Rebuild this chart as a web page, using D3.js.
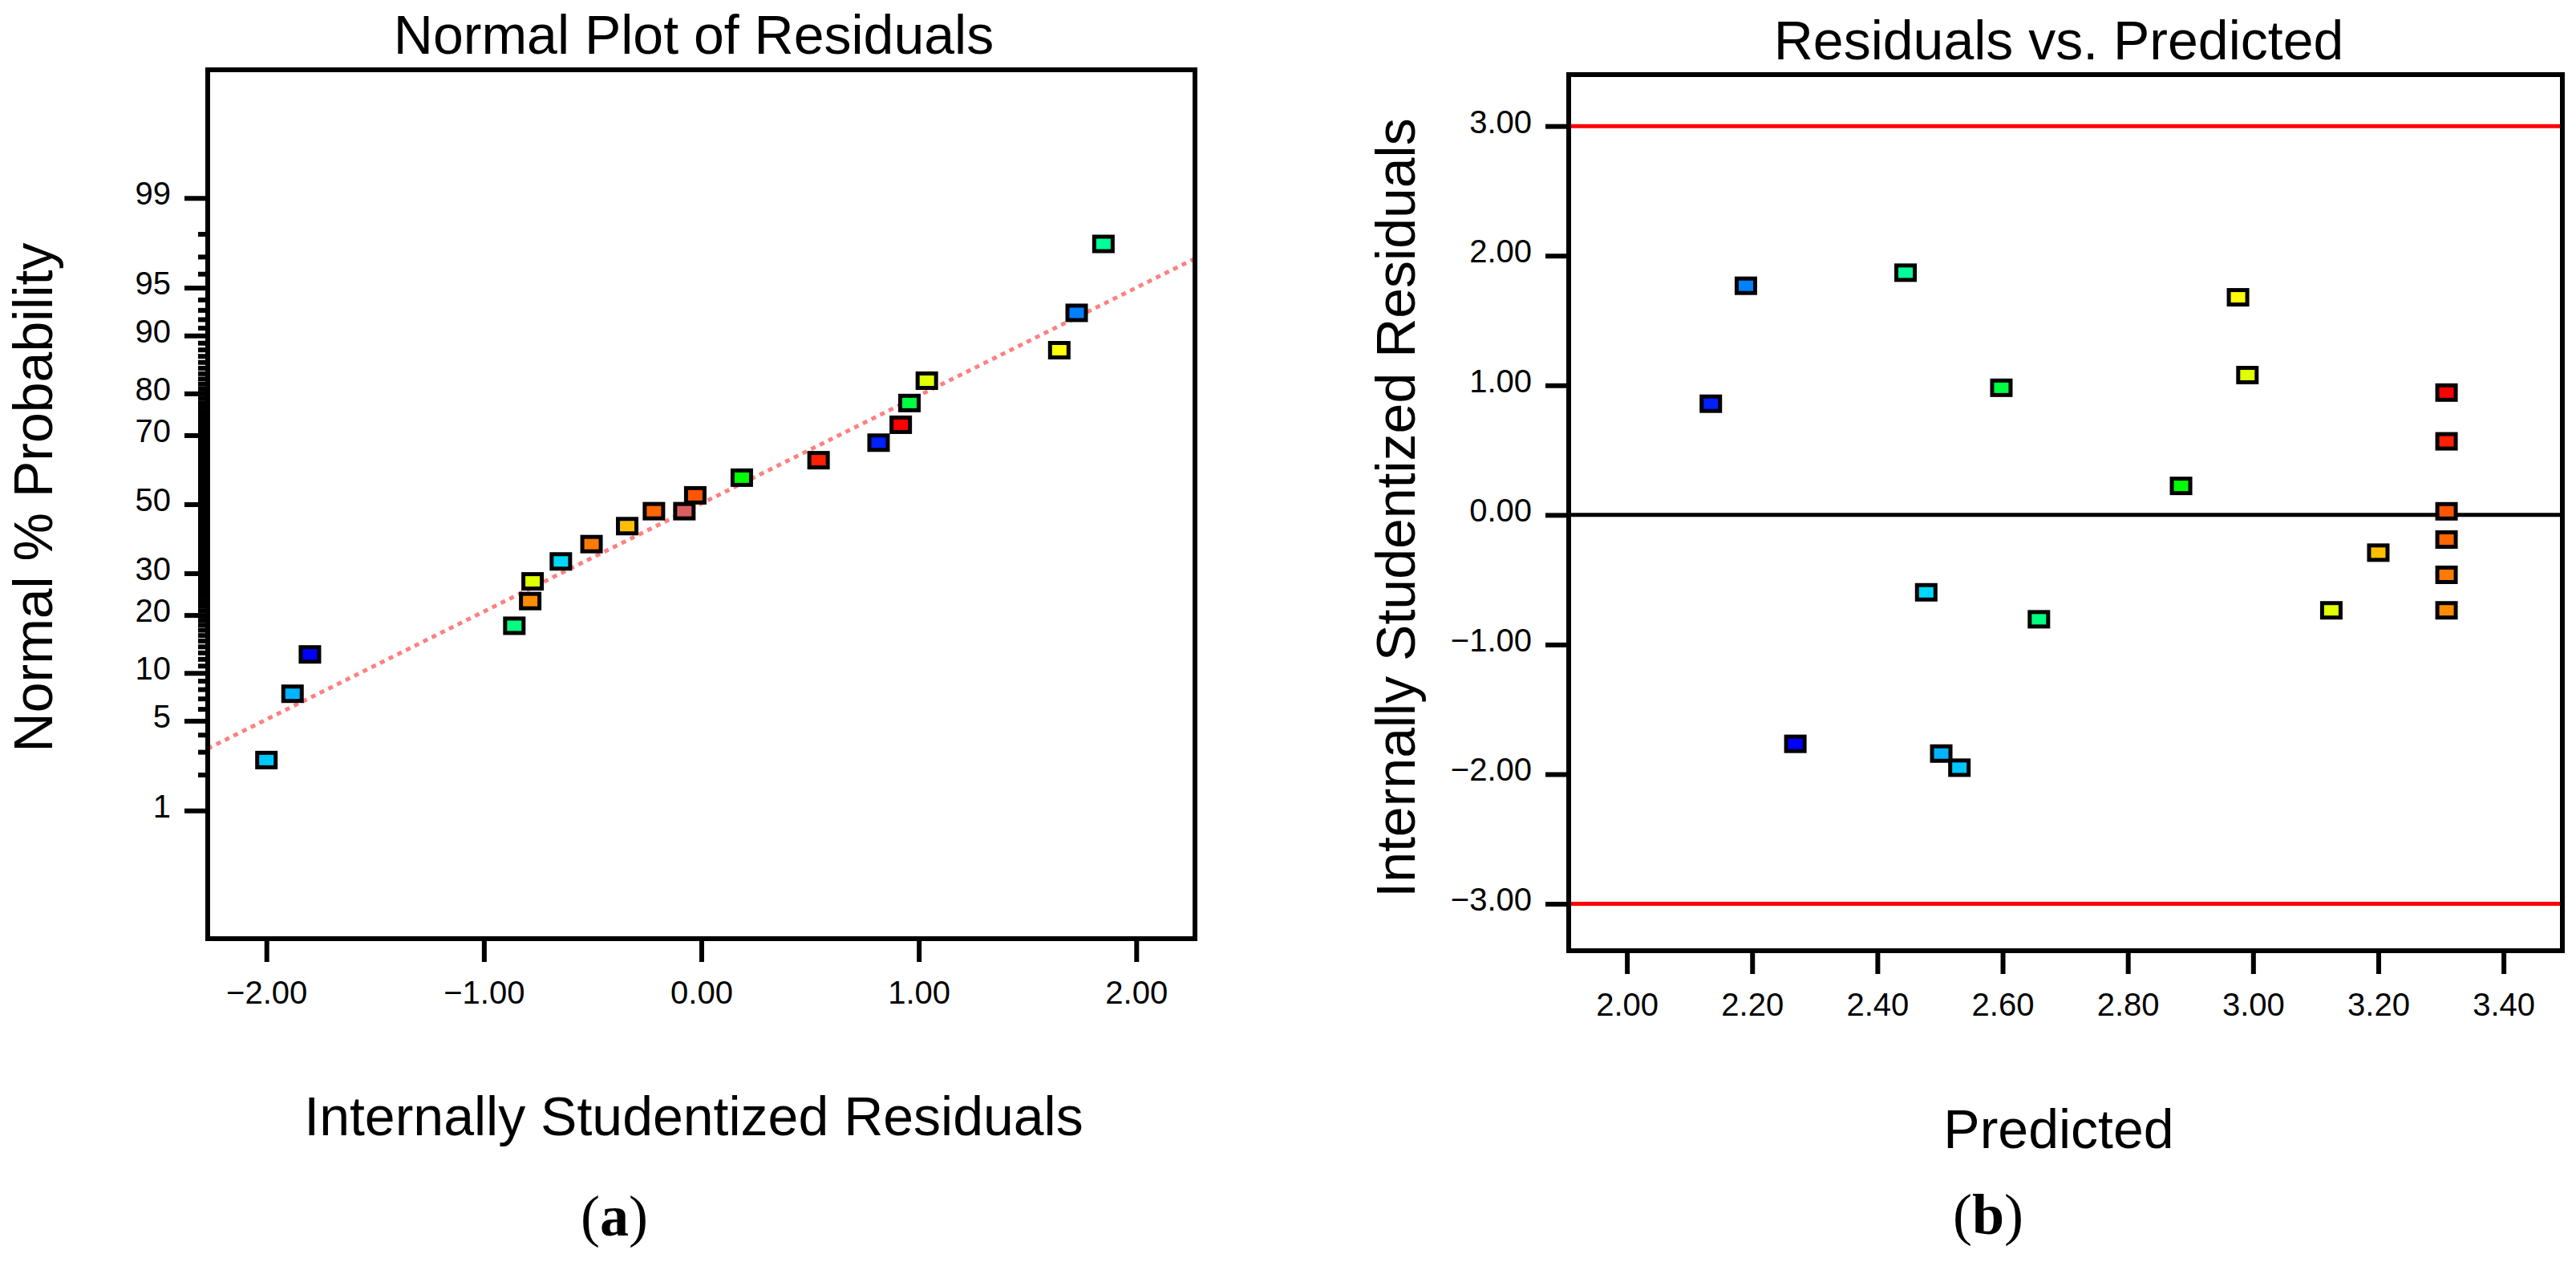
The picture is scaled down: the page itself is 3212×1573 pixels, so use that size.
<!DOCTYPE html>
<html>
<head>
<meta charset="utf-8">
<script src="https://cdn.jsdelivr.net/npm/d3@7"></script>
<style>
  body { margin: 0; background: #fff; }
  svg text { font-family: "Liberation Sans", Arial, sans-serif; fill: #000; }
  svg text.cap { font-family: "Liberation Serif", "Times New Roman", serif; }
</style>
</head>
<body>
<svg id="chart" width="3212" height="1573"></svg>
<script>
"use strict";

// ---- (a) normal plot of residuals ----
var normResid = [-2.00, -1.88, -1.80, -0.86, -0.787, -0.776, -0.646, -0.505, -0.341, -0.218, -0.078,
                 -0.028, 0.186, 0.539, 0.815, 0.917, 0.957, 1.037, 1.646, 1.726, 1.849];
var normPct = [2.6, 7.5, 12.7, 17.8, 23.1, 27.9, 33.2, 38.1, 43.4, 47.9, 47.9,
               52.7, 58.0, 63.1, 68.0, 72.7, 77.9, 82.6, 87.9, 92.7, 97.6];
var normColor = ["#00c8ff", "#00b4ff", "#0000ff", "#00ff80", "#ff8c00", "#e0ff00", "#00d8ff", "#ff7a00",
                 "#ffc000", "#ff6600", "#d96060", "#ff5500", "#00ff00", "#ff2000", "#0020ff", "#ff0000",
                 "#00ff40", "#e0ff00", "#ffff00", "#0080ff", "#00ff99"];
var probTicks = [1, 5, 10, 20, 30, 50, 70, 80, 90, 95, 99];
var residTicksA = [-2, -1, 0, 1, 2];
var fitX = [-2.27, 2.27];
var fitPct = [3.17, 96.9];

// ---- (b) residuals vs. predicted ----
var predicted = [2.134, 2.190, 2.269, 2.445, 2.478, 2.502, 2.531, 2.598, 2.658, 2.885,
                 2.976, 2.991, 3.125, 3.200, 3.309, 3.309, 3.309, 3.309, 3.309, 3.309];
var studResid = [0.858, 1.768, -1.766, 1.869, -0.597, -1.841, -1.95, 0.981, -0.805, 0.224,
                 1.679, 1.079, -0.736, -0.291, 0.944, 0.568, 0.028, -0.19, -0.462, -0.736];
var predColor = ["#0020ff", "#0080ff", "#0000ff", "#00ff99", "#00d8ff", "#00b4ff", "#00c8ff", "#00ff40",
                 "#00ff80", "#00ff00", "#ffff00", "#e0ff00", "#e0ff00", "#ffc000", "#ff0000", "#ff2000",
                 "#ff5500", "#ff6600", "#ff7a00", "#ff8c00"];
var predTicks = [2.0, 2.2, 2.4, 2.6, 2.8, 3.0, 3.2, 3.4];
var residTicksB = [-3, -2, -1, 0, 1, 2, 3];
var limits = [3, -3];

// inverse normal CDF (Acklam), used for the probability axis
function probit(p) {
    var a = [-3.969683028665376e+01, 2.209460984245205e+02, -2.759285104469687e+02,
             1.383577518672690e+02, -3.066479806614716e+01, 2.506628277459239e+00];
    var b = [-5.447609879822406e+01, 1.615858368580409e+02, -1.556989798598866e+02,
             6.680131188771972e+01, -1.328068155288572e+01];
    var c = [-7.784894002430293e-03, -3.223964580411365e-01, -2.400758277161838e+00,
             -2.549732539343734e+00, 4.374664141464968e+00, 2.938163982698783e+00];
    var d = [7.784695709041462e-03, 3.224671290700398e-01, 2.445134137142996e+00,
             3.754408661907416e+00];
    var pl = 0.02425, q, r;
    if (p < pl) {
        q = Math.sqrt(-2 * Math.log(p));
        return (((((c[0] * q + c[1]) * q + c[2]) * q + c[3]) * q + c[4]) * q + c[5]) /
               ((((d[0] * q + d[1]) * q + d[2]) * q + d[3]) * q + 1);
    }
    if (p > 1 - pl) {
        q = Math.sqrt(-2 * Math.log(1 - p));
        return -(((((c[0] * q + c[1]) * q + c[2]) * q + c[3]) * q + c[4]) * q + c[5]) /
                ((((d[0] * q + d[1]) * q + d[2]) * q + d[3]) * q + 1);
    }
    q = p - 0.5;
    r = q * q;
    return (((((a[0] * r + a[1]) * r + a[2]) * r + a[3]) * r + a[4]) * r + a[5]) * q /
           (((((b[0] * r + b[1]) * r + b[2]) * r + b[3]) * r + b[4]) * r + 1);
}
function zOf(pct) { return probit(pct / 100); }

var svg = d3.select("#chart");
var fontTick = 40, fontTitle = 68, lineW = 6;

function styleAxis(g) {
    g.select(".domain").remove();
    g.attr("font-size", fontTick)
        .attr("font-family", null);
    g.selectAll(".tick line")
        .attr("stroke", "#000")
        .attr("stroke-width", lineW);
}

function drawFrame(g, x, y) {
    g.append("rect")
        .attr("x", x.range()[0])
        .attr("y", y.range()[1])
        .attr("width", x.range()[1] - x.range()[0])
        .attr("height", y.range()[0] - y.range()[1])
        .attr("fill", "none")
        .attr("stroke", "#000")
        .attr("stroke-width", lineW);
}

function drawMarkers(g, xs, ys, cols, x, y) {
    g.selectAll("rect.pt")
        .data(xs)
        .enter().append("rect")
        .attr("class", "pt")
        .attr("x", function (d) { return x(d) - 11.5; })
        .attr("y", function (d, i) { return y(ys[i]) - 9; })
        .attr("width", 23)
        .attr("height", 18)
        .attr("fill", function (d, i) { return cols[i]; })
        .attr("stroke", "#000")
        .attr("stroke-width", 5);
}

// ================= panel (a) =================
var xA = d3.scaleLinear().domain([-2.27, 2.27]).range([259, 1490]);
var yA = d3.scaleLinear().domain([-3.3, 3.3]).range([1170, 87]);

var gA = svg.append("g");

// minor ticks on probability axis: every whole percent
var minorP = d3.range(2, 99).filter(function (p) { return probTicks.indexOf(p) < 0; });
gA.append("g")
    .attr("transform", "translate(" + xA.range()[0] + ",0)")
    .call(d3.axisLeft(yA).tickValues(minorP.map(zOf)).tickSize(12).tickFormat(""))
    .call(styleAxis);

gA.append("g")
    .attr("transform", "translate(" + xA.range()[0] + ",0)")
    .call(d3.axisLeft(yA).tickValues(probTicks.map(zOf)).tickSize(29).tickPadding(17)
        .tickFormat(function (d, i) { return probTicks[i]; }))
    .call(styleAxis)
    .selectAll("text").attr("dy", "0.2em");

gA.append("g")
    .attr("transform", "translate(0," + yA.range()[0] + ")")
    .call(d3.axisBottom(xA).tickValues(residTicksA).tickSize(29).tickPadding(24).tickFormat(d3.format(".2f")))
    .call(styleAxis);

// fitted reference line
gA.append("line")
    .attr("x1", xA(fitX[0])).attr("y1", yA(zOf(fitPct[0])))
    .attr("x2", xA(fitX[1])).attr("y2", yA(zOf(fitPct[1])))
    .attr("stroke", "#ff8080")
    .attr("stroke-width", 5)
    .attr("stroke-dasharray", "6,6");

drawMarkers(gA, normResid, normPct.map(zOf), normColor, xA, yA);
drawFrame(gA, xA, yA);

gA.append("text")
    .attr("x", 865).attr("y", 67)
    .attr("text-anchor", "middle")
    .attr("font-size", fontTitle)
    .text("Normal Plot of Residuals");
gA.append("text")
    .attr("x", 865).attr("y", 1415)
    .attr("text-anchor", "middle")
    .attr("font-size", fontTitle)
    .text("Internally Studentized Residuals");
gA.append("text")
    .attr("transform", "translate(65,620) rotate(-90)")
    .attr("text-anchor", "middle")
    .attr("font-size", fontTitle)
    .text("Normal % Probability");
gA.append("text")
    .attr("class", "cap")
    .attr("x", 766).attr("y", 1540)
    .attr("text-anchor", "middle")
    .attr("font-size", 72)
    .html('(<tspan font-weight="bold">a</tspan>)');

// ================= panel (b) =================
var xB = d3.scaleLinear().domain([1.907, 3.494]).range([1956, 3195]);
var yB = d3.scaleLinear().domain([-3.362, 3.397]).range([1185, 93]);

var gB = svg.append("g");

gB.append("g")
    .attr("transform", "translate(" + xB.range()[0] + ",0)")
    .call(d3.axisLeft(yB).tickValues(residTicksB).tickSize(29).tickPadding(17).tickFormat(d3.format(".2f")))
    .call(styleAxis)
    .selectAll("text").attr("dy", "0.2em");

gB.append("g")
    .attr("transform", "translate(0," + yB.range()[0] + ")")
    .call(d3.axisBottom(xB).tickValues(predTicks).tickSize(29).tickPadding(24).tickFormat(d3.format(".2f")))
    .call(styleAxis);

// +/- 3 limit lines
gB.selectAll("line.limit")
    .data(limits)
    .enter().append("line")
    .attr("class", "limit")
    .attr("x1", xB.range()[0]).attr("x2", xB.range()[1])
    .attr("y1", function (d) { return yB(d); })
    .attr("y2", function (d) { return yB(d); })
    .attr("stroke", "#ff0000")
    .attr("stroke-width", 5);

// zero line
gB.append("line")
    .attr("x1", xB.range()[0]).attr("x2", xB.range()[1])
    .attr("y1", yB(0)).attr("y2", yB(0))
    .attr("stroke", "#000")
    .attr("stroke-width", 5);

drawMarkers(gB, predicted, studResid, predColor, xB, yB);
drawFrame(gB, xB, yB);

gB.append("text")
    .attr("x", 2567).attr("y", 74)
    .attr("text-anchor", "middle")
    .attr("font-size", fontTitle)
    .text("Residuals vs. Predicted");
gB.append("text")
    .attr("x", 2567).attr("y", 1431)
    .attr("text-anchor", "middle")
    .attr("font-size", fontTitle)
    .text("Predicted");
gB.append("text")
    .attr("transform", "translate(1764,633) rotate(-90)")
    .attr("text-anchor", "middle")
    .attr("font-size", fontTitle)
    .text("Internally Studentized Residuals");
gB.append("text")
    .attr("class", "cap")
    .attr("x", 2479).attr("y", 1538)
    .attr("text-anchor", "middle")
    .attr("font-size", 72)
    .html('(<tspan font-weight="bold">b</tspan>)');
</script>
</body>
</html>
